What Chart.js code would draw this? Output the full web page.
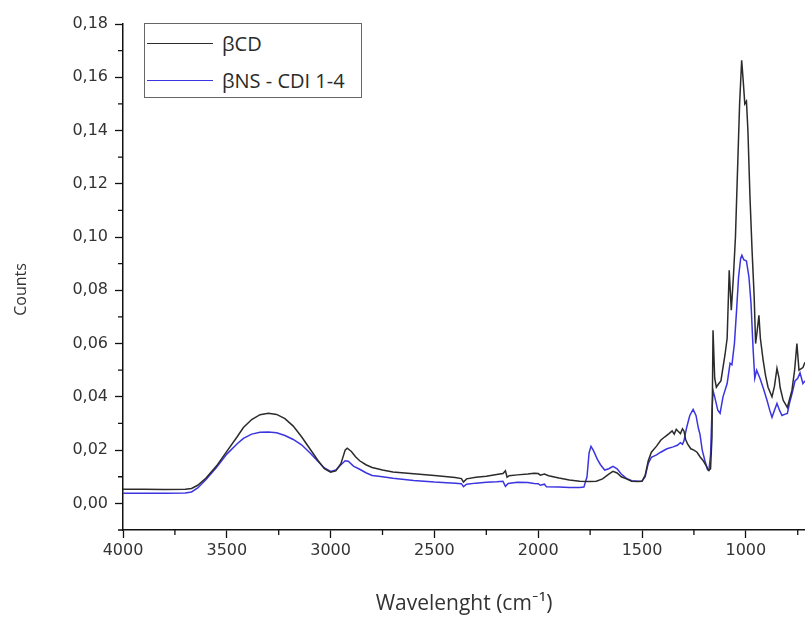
<!DOCTYPE html>
<html>
<head>
<meta charset="utf-8">
<script src="https://cdn.jsdelivr.net/npm/chart.js@4.4.1/dist/chart.umd.min.js"></script>
<style>
  html, body { margin: 0; padding: 0; background: #fff; }
  #wrap { position: relative; width: 805px; height: 617px; }
  #legend {
    position: absolute; left: 144px; top: 23px; width: 218px; height: 75px;
    border: 1px solid #666; background: #fff; box-sizing: border-box;
    font-family: "Open Sans", Lato, sans-serif; font-size: 20px; color: #2a2a2a;
  }
  #legend .row { position: absolute; left: 2px; height: 24px; display: flex; align-items: center; white-space: nowrap; }
  #legend .swatch { width: 66px; height: 0; border-top: 1.5px solid; margin-right: 9px; }
</style>
</head>
<body>
<div id="wrap">
  <canvas id="chart" width="805" height="617"></canvas>
  <div id="legend">
    <div class="row" style="top:7px"><span class="swatch" style="border-color:#2b2b2b"></span><span>βCD</span></div>
    <div class="row" style="top:44px"><span class="swatch" style="border-color:#3b35e0"></span><span>βNS - CDI 1-4</span></div>
  </div>
</div>
<script>
// βCD spectrum (wavenumber, counts)
const cdWave = [4000, 3900, 3800, 3700, 3670, 3640, 3600, 3550, 3500, 3450, 3420, 3380, 3340, 3300, 3260, 3220, 3180, 3140, 3100, 3060, 3030, 3000, 2975, 2950, 2930, 2920, 2900, 2880, 2860, 2830, 2800, 2750, 2700, 2600, 2500, 2400, 2370, 2360, 2345, 2300, 2250, 2200, 2170, 2158, 2150, 2140, 2100, 2050, 2020, 2000, 1990, 1970, 1950, 1900, 1850, 1800, 1750, 1720, 1690, 1660, 1640, 1620, 1600, 1575, 1550, 1520, 1500, 1485, 1470, 1455, 1430, 1410, 1390, 1370, 1355, 1345, 1335, 1325, 1315, 1305, 1298, 1290, 1280, 1265, 1250, 1235, 1220, 1205, 1190, 1180, 1170, 1163, 1158, 1150, 1142, 1130, 1120, 1100, 1090, 1080, 1070, 1060, 1050, 1040, 1030, 1020, 1012, 1005, 997, 990, 980, 970, 960, 953, 945, 937, 930, 917, 905, 893, 874, 862, 850, 840, 835, 820, 800, 778, 765, 754, 744, 725, 715];
const cdCounts = [0.0053, 0.0053, 0.0052, 0.0053, 0.0056, 0.0068, 0.0095, 0.0140, 0.0195, 0.0250, 0.0285, 0.0315, 0.0333, 0.0338, 0.0334, 0.0318, 0.0290, 0.0250, 0.0205, 0.0160, 0.0130, 0.0117, 0.0122, 0.0150, 0.0200, 0.0207, 0.0195, 0.0175, 0.0160, 0.0145, 0.0135, 0.0125, 0.0118, 0.0111, 0.0105, 0.0097, 0.0093, 0.0080, 0.0092, 0.0098, 0.0102, 0.0108, 0.0112, 0.0122, 0.0098, 0.0104, 0.0107, 0.0110, 0.0113, 0.0112, 0.0106, 0.0110, 0.0104, 0.0095, 0.0088, 0.0083, 0.0082, 0.0083, 0.0092, 0.0110, 0.0120, 0.0114, 0.0100, 0.0092, 0.0083, 0.0082, 0.0083, 0.0105, 0.0160, 0.0192, 0.0215, 0.0237, 0.0250, 0.0262, 0.0272, 0.0260, 0.0278, 0.0270, 0.0262, 0.0280, 0.0272, 0.0240, 0.0222, 0.0205, 0.0200, 0.0192, 0.0174, 0.0160, 0.0140, 0.0124, 0.0130, 0.0250, 0.0650, 0.0470, 0.0436, 0.0450, 0.0460, 0.0560, 0.0620, 0.0875, 0.0725, 0.0850, 0.1000, 0.1250, 0.1500, 0.1664, 0.1580, 0.1500, 0.1510, 0.1400, 0.1150, 0.0950, 0.0780, 0.0600, 0.0650, 0.0706, 0.0620, 0.0540, 0.0480, 0.0436, 0.0400, 0.0440, 0.0507, 0.0470, 0.0436, 0.0387, 0.0360, 0.0424, 0.0500, 0.0600, 0.0500, 0.0510, 0.0530];

// βNS - CDI 1-4 spectrum (wavenumber, counts)
const nsWave = [4000, 3900, 3800, 3700, 3670, 3640, 3600, 3550, 3500, 3450, 3420, 3380, 3340, 3300, 3260, 3220, 3180, 3140, 3100, 3060, 3030, 3000, 2975, 2950, 2930, 2915, 2890, 2860, 2830, 2800, 2750, 2700, 2600, 2500, 2400, 2370, 2360, 2345, 2300, 2250, 2200, 2170, 2158, 2145, 2100, 2050, 2020, 2000, 1990, 1970, 1960, 1900, 1850, 1800, 1780, 1765, 1755, 1746, 1735, 1715, 1700, 1680, 1660, 1640, 1620, 1600, 1575, 1550, 1520, 1500, 1485, 1470, 1455, 1430, 1410, 1380, 1350, 1330, 1315, 1305, 1298, 1285, 1270, 1254, 1240, 1228, 1221, 1210, 1197, 1185, 1178, 1170, 1163, 1158, 1150, 1135, 1124, 1110, 1090, 1076, 1067, 1055, 1045, 1035, 1025, 1019, 1010, 997, 985, 975, 965, 957, 948, 932, 915, 898, 885, 874, 862, 850, 838, 826, 810, 800, 790, 775, 763, 750, 739, 725, 715];
const nsCounts = [0.0038, 0.0038, 0.0038, 0.0039, 0.0043, 0.0058, 0.0090, 0.0135, 0.0185, 0.0224, 0.0244, 0.0260, 0.0267, 0.0268, 0.0265, 0.0255, 0.0240, 0.0220, 0.0190, 0.0157, 0.0133, 0.0120, 0.0125, 0.0145, 0.0160, 0.0158, 0.0140, 0.0128, 0.0115, 0.0105, 0.0100, 0.0094, 0.0086, 0.0080, 0.0076, 0.0074, 0.0063, 0.0072, 0.0076, 0.0079, 0.0081, 0.0083, 0.0064, 0.0075, 0.0079, 0.0078, 0.0075, 0.0074, 0.0068, 0.0072, 0.0062, 0.0061, 0.0060, 0.0060, 0.0061, 0.0100, 0.0190, 0.0214, 0.0200, 0.0165, 0.0145, 0.0125, 0.0130, 0.0139, 0.0130, 0.0110, 0.0094, 0.0085, 0.0083, 0.0084, 0.0100, 0.0150, 0.0173, 0.0182, 0.0192, 0.0205, 0.0212, 0.0218, 0.0228, 0.0222, 0.0235, 0.0285, 0.0330, 0.0353, 0.0330, 0.0280, 0.0260, 0.0200, 0.0160, 0.0128, 0.0124, 0.0180, 0.0350, 0.0424, 0.0400, 0.0350, 0.0338, 0.0400, 0.0450, 0.0526, 0.0520, 0.0600, 0.0720, 0.0850, 0.0920, 0.0932, 0.0915, 0.0910, 0.0850, 0.0750, 0.0580, 0.0470, 0.0500, 0.0470, 0.0430, 0.0387, 0.0350, 0.0323, 0.0350, 0.0375, 0.0350, 0.0330, 0.0335, 0.0338, 0.0375, 0.0420, 0.0460, 0.0470, 0.0490, 0.0450, 0.0460];

const xTicks = [4000, 3500, 3000, 2500, 2000, 1500, 1000];
const xMinorTicks = [3750, 3250, 2750, 2250, 1750, 1250, 750];
const yTicks = [0, 0.02, 0.04, 0.06, 0.08, 0.10, 0.12, 0.14, 0.16, 0.18];
const yMinorTicks = [-0.01, 0.01, 0.03, 0.05, 0.07, 0.09, 0.11, 0.13, 0.15, 0.17];

const toPoints = (xs, ys) => xs.map((x, i) => ({ x: x, y: ys[i] }));

// short outward ticks between the labelled ones
const minorTicks = {
  id: 'minorTicks',
  afterDraw(chart) {
    const ctx = chart.ctx;
    const xs = chart.scales.x, ys = chart.scales.y;
    const area = chart.chartArea;
    ctx.save();
    ctx.strokeStyle = '#111';
    ctx.lineWidth = 1.3;
    ctx.beginPath();
    xMinorTicks.forEach((v) => {
      const px = xs.getPixelForValue(v);
      if (px < area.left || px > area.right) return;
      ctx.moveTo(px, area.bottom);
      ctx.lineTo(px, area.bottom + 5);
    });
    yMinorTicks.forEach((v) => {
      const py = ys.getPixelForValue(v);
      ctx.moveTo(area.left, py);
      ctx.lineTo(area.left - 5, py);
    });
    ctx.stroke();
    ctx.restore();
  }
};

const tickFont = { family: '"DejaVu Sans", Arial, sans-serif', size: 16 };

new Chart(document.getElementById('chart'), {
  type: 'line',
  data: {
    datasets: [
      {
        label: 'βCD',
        data: toPoints(cdWave, cdCounts),
        borderColor: '#2b2b2b',
        borderWidth: 1.5,
        pointRadius: 0,
        tension: 0,
      },
      {
        label: 'βNS - CDI 1-4',
        data: toPoints(nsWave, nsCounts),
        borderColor: '#3b35e0',
        borderWidth: 1.5,
        pointRadius: 0,
        tension: 0,
      },
    ],
  },
  options: {
    responsive: false,
    animation: false,
    layout: { padding: { top: 24, right: 0, bottom: 0, left: 0 } },
    plugins: {
      legend: { display: false },
      tooltip: { enabled: false },
    },
    scales: {
      x: {
        type: 'linear',
        reverse: true,
        min: 715,
        max: 4000,
        afterBuildTicks: (scale) => { scale.ticks = xTicks.map((v) => ({ value: v })); },
        afterFit: (scale) => { scale.height = 87; },
        border: { color: '#111', width: 1.5 },
        grid: { drawOnChartArea: false, drawTicks: true, tickLength: 8, tickColor: '#111', tickWidth: 1.3 },
        ticks: {
          maxRotation: 0,
          padding: 3,
          color: '#333',
          font: tickFont,
          callback: (v) => String(v),
        },
        title: {
          display: true,
          text: 'Wavelenght (cm⁻¹)',
          color: '#333',
          font: { family: '"Open Sans", Lato, sans-serif', size: 21 },
          padding: { top: 0, bottom: 0 },
        },
      },
      y: {
        min: -0.01,
        max: 0.18,
        afterBuildTicks: (scale) => { scale.ticks = yTicks.map((v) => ({ value: v })); },
        afterFit: (scale) => { scale.width = 123; },
        border: { color: '#111', width: 1.5 },
        grid: { drawOnChartArea: false, drawTicks: true, tickLength: 8, tickColor: '#111', tickWidth: 1.3 },
        ticks: {
          padding: 7,
          color: '#333',
          font: tickFont,
          callback: (v) => v.toFixed(2).replace('.', ','),
        },
        title: {
          display: true,
          text: 'Counts      ',
          color: '#333',
          font: { family: '"Open Sans", Lato, sans-serif', size: 16 },
          padding: { top: 12, bottom: 0 },
        },
      },
    },
  },
  plugins: [minorTicks],
});
</script>
</body>
</html>
